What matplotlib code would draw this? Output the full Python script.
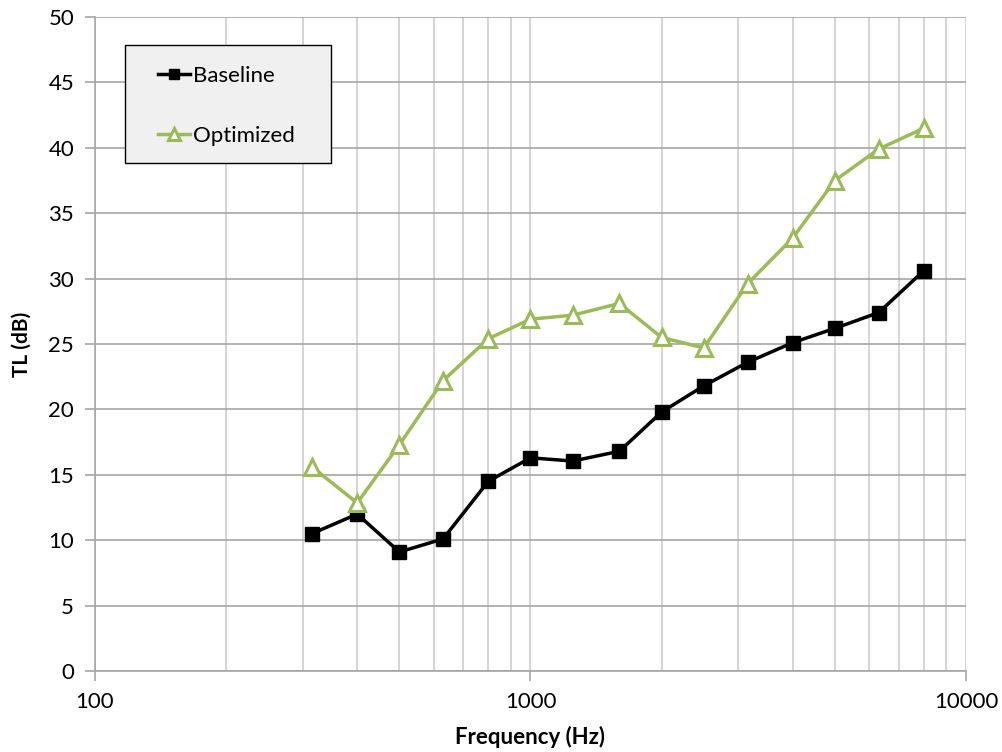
import matplotlib
matplotlib.use("Agg")
import matplotlib.pyplot as plt
from matplotlib.patches import Rectangle
from matplotlib.ticker import LogLocator, FixedLocator, NullFormatter, FixedFormatter

plt.rcParams['font.family'] = ['Lato', 'DejaVu Sans']

freq = [315, 400, 500, 630, 800, 1000, 1250, 1600, 2000, 2500, 3150, 4000, 5000, 6300, 8000]
baseline = [10.5, 12.0, 9.1, 10.1, 14.5, 16.3, 16.05, 16.8, 19.8, 21.8, 23.6, 25.1, 26.2, 27.4, 30.6]
optimized = [15.6, 12.85, 17.3, 22.2, 25.4, 26.9, 27.2, 28.1, 25.5, 24.7, 29.6, 33.1, 37.5, 39.9, 41.5]
y_ticks = [0, 5, 10, 15, 20, 25, 30, 35, 40, 45, 50]
x_ticks = [100, 1000, 10000]
x_labels = ['100', '1000', '10000']

W, H = 1003, 752
fig = plt.figure(figsize=(W / 100, H / 100), dpi=100)
ax = fig.add_axes([95 / W, 1 - 671 / H, (966 - 95) / W, (671 - 17) / H])

ax.set_xscale('log')
ax.set_xlim(100, 10000)
ax.set_ylim(0, 50)

ax.xaxis.set_major_locator(FixedLocator(x_ticks))
ax.xaxis.set_major_formatter(FixedFormatter(x_labels))
ax.xaxis.set_minor_locator(LogLocator(base=10, subs=range(2, 10)))
ax.xaxis.set_minor_formatter(NullFormatter())
ax.set_yticks(y_ticks)

ax.grid(which='major', axis='y', color='#a6a6a6', linewidth=1.2)
ax.grid(which='both', axis='x', color='#cdcdcd', linewidth=1.2)
ax.set_axisbelow(True)

for s in ['top', 'right']:
    ax.spines[s].set_visible(False)
for s in ['left', 'bottom']:
    ax.spines[s].set_color('#a6a6a6')
    ax.spines[s].set_linewidth(1.2)

ax.tick_params(axis='both', which='major', length=7, width=1.2, color='#a6a6a6',
               labelsize=16, pad=8)
ax.tick_params(axis='x', which='minor', length=0)

ax.plot(freq, baseline, color='black', linewidth=2.5, marker='s', markersize=10,
        markerfacecolor='black', markeredgecolor='black', label='Baseline', zorder=3)
ax.plot(freq, optimized, color='#9bbb59', linewidth=2.5, marker='^', markersize=12,
        markerfacecolor='white', markeredgecolor='#9bbb59', markeredgewidth=2.2,
        label='Optimized', zorder=3)

ax.set_ylabel('TL (dB)', fontsize=15, fontweight='bold', labelpad=12)
ax.set_xlabel('Frequency (Hz)', fontsize=16, fontweight='bold', labelpad=10)

# legend panel: grey box with black border, entries placed inside without a frame
box = Rectangle((125 / W, 1 - 163 / H), (331 - 125) / W, (163 - 45) / H,
                transform=fig.transFigure, facecolor='#f0f0f0', edgecolor='black',
                linewidth=1.0, zorder=4, clip_on=False)
ax.add_patch(box)

leg = ax.legend(loc='upper left', bbox_to_anchor=(158 / W, 1 - 66 / H),
                bbox_transform=fig.transFigure,
                fontsize=16, frameon=False, handlelength=1.45, handletextpad=0.12,
                labelspacing=1.8, borderpad=0, borderaxespad=0, markerscale=0.75)
leg.set_zorder(6)

fig.savefig('out.png', dpi=100)
